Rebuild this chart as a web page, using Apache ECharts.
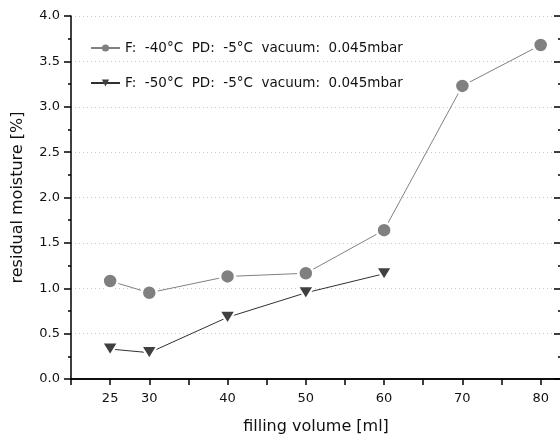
<!DOCTYPE html>
<html>
<head>
<meta charset="utf-8">
<script src="https://cdn.jsdelivr.net/npm/echarts@6/dist/echarts.min.js"></script>
<style>html,body{margin:0;padding:0;background:#fff}#c{width:560px;height:437px}</style>
</head>
<body>
<div id="c"></div>
<script>
var xTickLabels = [25, 30, 40, 50, 60, 70, 80];
var s1Name = 'F:  -40°C  PD:  -5°C  vacuum:  0.045mbar';
var s1X = [25, 30, 40, 50, 60, 70, 80];
var s1Y = [1.08, 0.95, 1.13, 1.165, 1.64, 3.23, 3.68];
var s2Name = 'F:  -50°C  PD:  -5°C  vacuum:  0.045mbar';
var s2X = [25, 30, 40, 50, 60];
var s2Y = [0.33, 0.29, 0.68, 0.95, 1.16];

function pairs(xs, ys) { return xs.map(function (x, i) { return [x, ys[i]]; }); }

var FONT = 'DejaVu Sans';
var chart = echarts.init(document.getElementById('c'), null, { renderer: 'canvas' });
var axisLine = { show: true, lineStyle: { color: '#000', width: 1.5 } };
chart.setOption({
  animation: false,
  textStyle: { fontFamily: FONT },
  grid: { left: 71, right: -1, top: 16, bottom: 58, outerBoundsMode: 'none', containLabel: false },
  legend: {
    orient: 'vertical', left: 85, top: 36,
    itemWidth: 29, itemHeight: 9, itemGap: 21,
    textStyle: { fontFamily: FONT, fontSize: 13.5, color: '#111' },
    itemStyle: { borderWidth: 0 },
    data: [s1Name, s2Name]
  },
  xAxis: [{
    type: 'value', min: 20, max: 82.6, interval: 5,
    name: 'filling volume [ml]', nameLocation: 'middle', nameGap: 40,
    nameTextStyle: { fontFamily: FONT, fontSize: 16, color: '#111' },
    axisLine: axisLine,
    axisTick: { show: true, inside: false, length: 6, lineStyle: { color: '#000', width: 1.5 } },
    axisLabel: {
      margin: 13, fontFamily: FONT, fontSize: 13, color: '#111',
      formatter: function (v) { return xTickLabels.indexOf(v) >= 0 ? String(v) : ''; }
    },
    splitLine: { show: false }, minorSplitLine: { show: false }
  }, {
    type: 'value', position: 'top', min: 20, max: 82.6, interval: 5,
    axisLine: axisLine,
    axisTick: { show: true, inside: true, length: 6, lineStyle: { color: '#000', width: 1.5 } },
    axisLabel: { show: false }, splitLine: { show: false }, minorSplitLine: { show: false }
  }],
  yAxis: [{
    type: 'value', min: 0, max: 4, interval: 0.5,
    name: 'residual moisture [%]', nameLocation: 'middle', nameGap: 45,
    nameTextStyle: { fontFamily: FONT, fontSize: 16, color: '#111' },
    axisLine: axisLine,
    axisTick: { show: true, inside: false, length: 7, lineStyle: { color: '#000', width: 1.5 } },
    minorTick: { show: true, splitNumber: 2, length: 3, lineStyle: { color: '#000', width: 1.5 } },
    axisLabel: { margin: 11, fontFamily: FONT, fontSize: 13, color: '#111',
      formatter: function (v) { return v.toFixed(1); } },
    splitLine: { show: true, lineStyle: { color: '#c8c8c8', type: [1, 3], width: 1 } },
    minorSplitLine: { show: false }
  }, {
    type: 'value', position: 'right', min: 0, max: 4, interval: 0.5,
    axisLine: axisLine,
    axisTick: { show: true, inside: true, length: 7, lineStyle: { color: '#000', width: 1.5 } },
    minorTick: { show: true, splitNumber: 2, length: 3, lineStyle: { color: '#000', width: 1.5 } },
    axisLabel: { show: false }, splitLine: { show: false }, minorSplitLine: { show: false }
  }],
  series: [{
    name: s1Name, type: 'line', xAxisIndex: 0, yAxisIndex: 0,
    data: pairs(s1X, s1Y),
    symbol: 'circle', symbolSize: 15,
    itemStyle: { color: '#808080', borderColor: '#fff', borderWidth: 2.5 },
    lineStyle: { color: '#808080', width: 1 }
  }, {
    name: s2Name, type: 'line', xAxisIndex: 0, yAxisIndex: 0,
    data: pairs(s2X, s2Y),
    symbol: 'triangle', symbolRotate: 180, symbolSize: [16, 13],
    itemStyle: { color: '#404040', borderColor: '#fff', borderWidth: 2 },
    lineStyle: { color: '#303030', width: 1 }
  }]
});
</script>
</body>
</html>
